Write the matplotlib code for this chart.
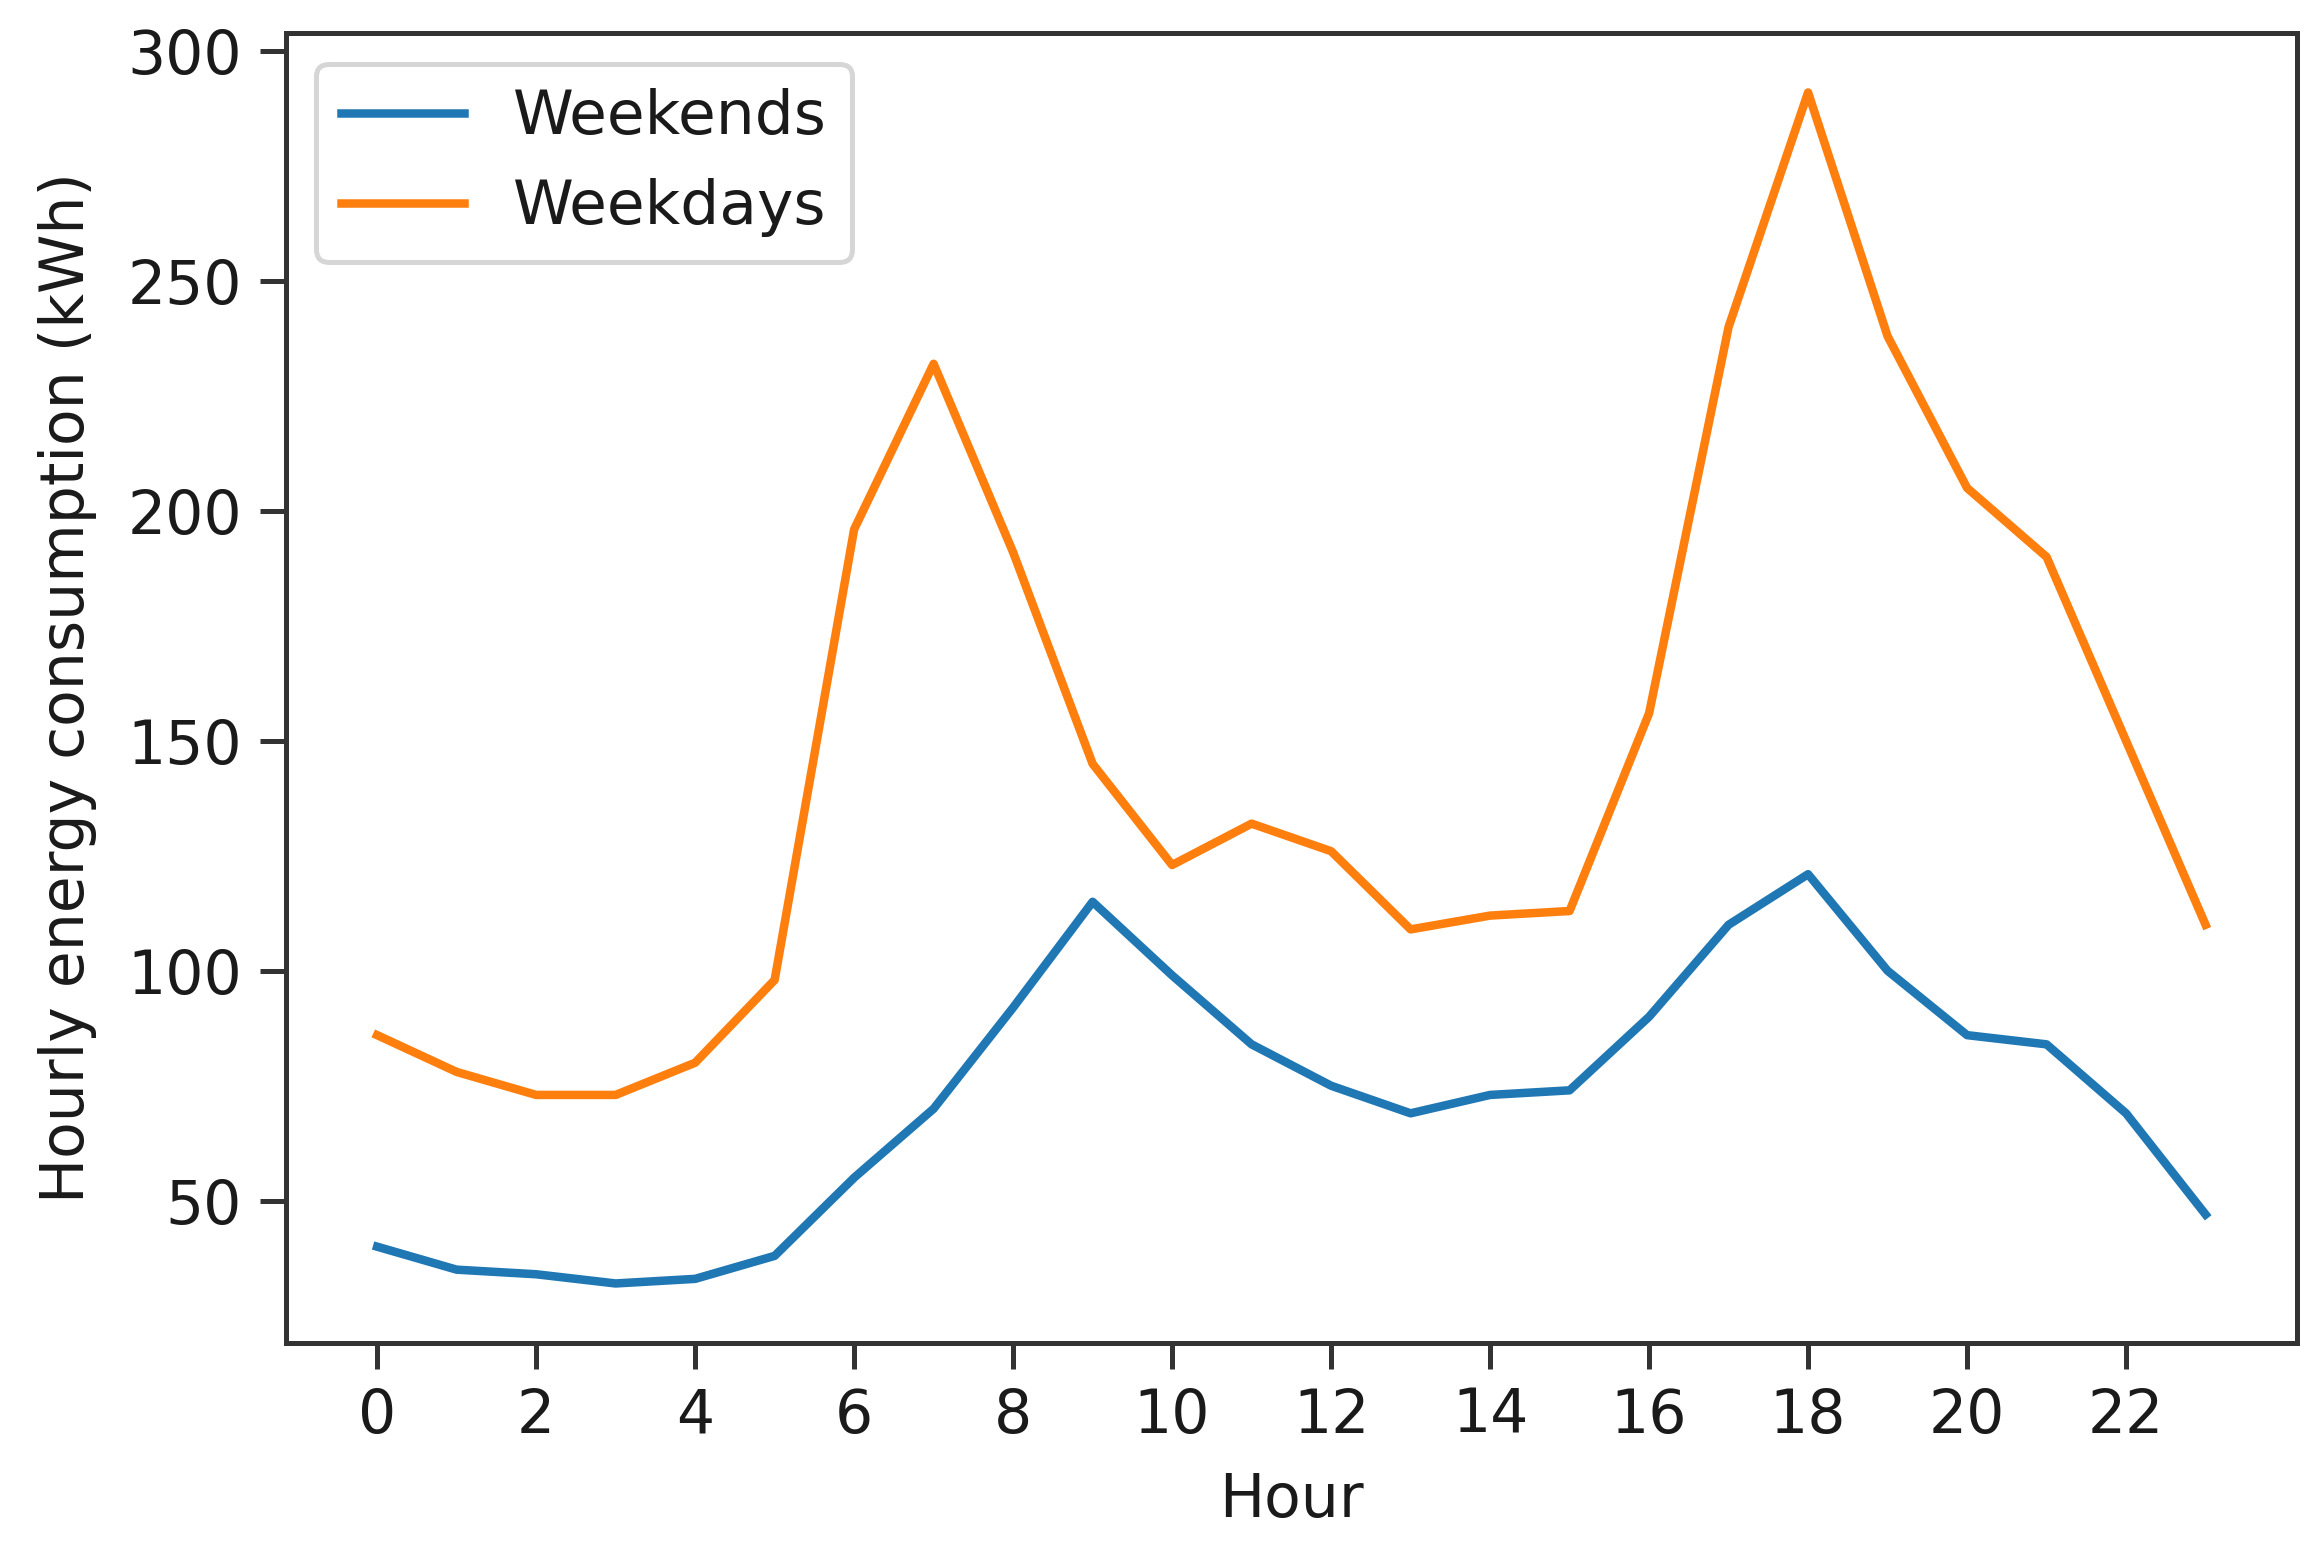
import numpy as np
import matplotlib
matplotlib.use("Agg")
from matplotlib import pyplot as plt

hours = list(range(24))

weekends = [40, 35, 34, 32, 33, 38, 55, 70, 92, 115, 99, 84,
            75, 69, 73, 74, 90, 110, 121, 100, 86, 84, 69, 47]

weekdays = [86, 78, 73, 73, 80, 98, 196, 232, 191, 145, 123, 132,
            126, 109, 112, 113, 156, 240, 291, 238, 205, 190, 150, 110]

xticks = list(range(0, 24, 2))

plt.rcParams["font.size"] = 12
plt.rcParams["xtick.major.size"] = 5.2
plt.rcParams["ytick.major.size"] = 5.2
plt.rcParams["xtick.major.width"] = 1.0
plt.rcParams["ytick.major.width"] = 1.0
plt.rcParams["xtick.color"] = "#333333"
plt.rcParams["ytick.color"] = "#333333"
plt.rcParams["xtick.labelcolor"] = "#1a1a1a"
plt.rcParams["ytick.labelcolor"] = "#1a1a1a"
plt.rcParams["axes.edgecolor"] = "#333333"
plt.rcParams["axes.linewidth"] = 1.0

fig, ax = plt.subplots(figsize=(2323 / 360, 1546 / 360), dpi=360)
fig.subplots_adjust(left=0.123, right=0.9888, bottom=0.1313, top=0.9787)

ax.plot(hours, weekends, label="Weekends", lw=1.7)
ax.plot(hours, weekdays, label="Weekdays", lw=1.7)

ax.set_xticks(xticks)
ax.set_xlabel("Hour", color="#1a1a1a", labelpad=5)
ax.set_ylabel("Hourly energy consumption (kWh)", color="#1a1a1a", labelpad=6)
leg = ax.legend(loc="upper left", fontsize=12.3)
for t in leg.get_texts():
    t.set_color("#1a1a1a")

fig.savefig("out.png", dpi=360)
